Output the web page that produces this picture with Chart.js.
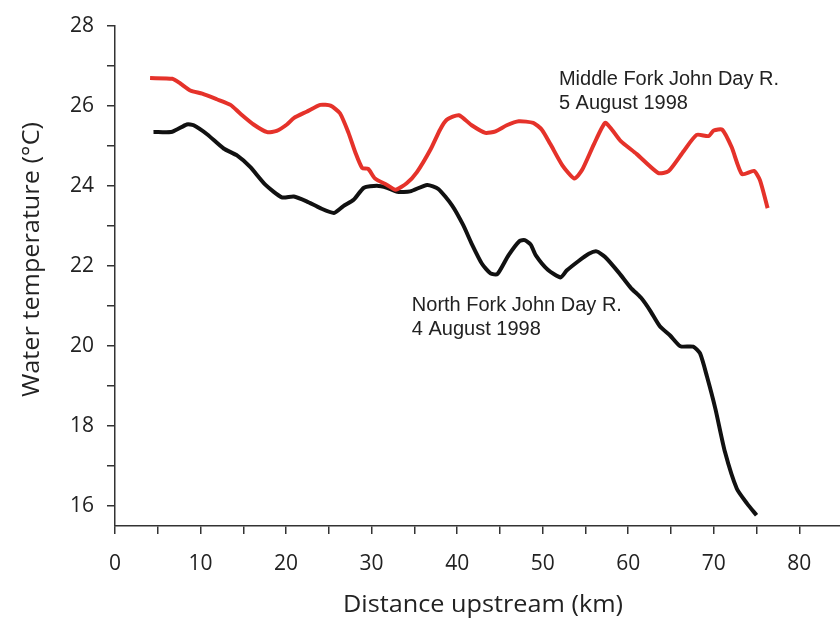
<!DOCTYPE html>
<html>
<head>
<meta charset="utf-8">
<script src="https://cdn.jsdelivr.net/npm/chart.js@4/dist/chart.umd.min.js"></script>
<style>
  html, body { margin: 0; padding: 0; background: #ffffff; }
  #c { display: block; }
</style>
</head>
<body>
<canvas id="c" width="840" height="623"></canvas>
<script>
// ---- Data ----
const middleKm = [4.1, 6.7, 7.6, 8.8, 10.2, 11.9, 13.5, 14.6, 16.2, 17.8, 18.9, 20.1, 20.9, 22.4, 24.0, 25.2, 26.3, 27.3, 28.1, 28.9, 29.6, 30.4, 31.8, 32.8, 34.1, 35.3, 36.9, 38.0, 38.8, 40.2, 41.7, 43.3, 44.5, 45.8, 47.2, 48.9, 49.9, 50.9, 52.3, 53.7, 54.6, 56.0, 57.3, 58.1, 59.1, 61.0, 63.5, 64.7, 66.5, 68.0, 69.4, 70.0, 71.0, 72.1, 73.3, 74.7, 75.4, 76.3];
const middleTemp = [26.69, 26.67, 26.56, 26.38, 26.30, 26.16, 26.02, 25.81, 25.53, 25.34, 25.37, 25.53, 25.69, 25.85, 26.02, 26.00, 25.81, 25.32, 24.83, 24.44, 24.42, 24.18, 24.02, 23.90, 24.06, 24.34, 24.91, 25.40, 25.65, 25.76, 25.51, 25.32, 25.36, 25.51, 25.61, 25.57, 25.40, 25.04, 24.51, 24.18, 24.39, 25.04, 25.57, 25.40, 25.12, 24.79, 24.32, 24.36, 24.87, 25.27, 25.24, 25.38, 25.40, 24.96, 24.29, 24.37, 24.14, 23.44];

const northKm = [4.5, 6.7, 8.4, 9.2, 10.8, 12.7, 14.3, 15.8, 17.6, 19.5, 20.9, 22.4, 24.0, 25.6, 26.7, 27.9, 29.1, 30.6, 31.8, 33.0, 34.5, 36.5, 37.8, 39.4, 40.7, 41.7, 42.9, 43.9, 44.7, 46.0, 47.3, 47.9, 48.6, 49.2, 50.6, 52.1, 52.8, 54.2, 55.4, 56.3, 57.3, 58.9, 60.3, 61.5, 62.6, 63.7, 64.9, 66.1, 67.6, 68.4, 69.2, 70.2, 71.3, 72.7, 73.9, 75.0];
const northTemp = [25.34, 25.35, 25.53, 25.51, 25.28, 24.93, 24.75, 24.47, 24.02, 23.71, 23.73, 23.61, 23.44, 23.32, 23.49, 23.65, 23.95, 24.00, 23.95, 23.85, 23.86, 24.02, 23.92, 23.51, 23.02, 22.55, 22.05, 21.81, 21.79, 22.26, 22.62, 22.64, 22.53, 22.26, 21.90, 21.71, 21.88, 22.12, 22.30, 22.36, 22.22, 21.83, 21.45, 21.20, 20.87, 20.49, 20.26, 19.99, 19.98, 19.81, 19.24, 18.42, 17.36, 16.43, 16.06, 15.77];

const seriesNames = ["Middle Fork John Day R.", "North Fork John Day R."];
const labelLines = [["Middle Fork John Day R.", "5 August 1998"], ["North Fork John Day R.", "4 August 1998"]];
const labelKm = [51.9, 34.7];
const labelTemp = [26.52, 20.87];

const xTitle = "Distance upstream (km)";
const yTitle = "Water temperature (\u00B0C)";
const xMin = 0, xMax = 84.76, xStep = 5, xLabelEvery = 10;
const yMin = 15.5, yMax = 28, yStep = 1, yLabelEvery = 2;

const toPoints = (xs, ys) => xs.map((x, i) => ({ x: x, y: ys[i] }));
const stepTicks = (min, max, step) => {
  const out = [];
  for (let v = Math.ceil(min / step) * step; v <= max + 1e-9; v += step) out.push({ value: Math.round(v * 1000) / 1000 });
  return out;
};

const axisColor = '#333333';
const textColor = '#222222';

const annotationPlugin = {
  id: 'annot',
  afterDatasetsDraw(chart) {
    const ctx = chart.ctx;
    const xs = chart.scales.x, ys = chart.scales.y;
    ctx.save();
    ctx.fillStyle = textColor;
    ctx.font = '20px "Liberation Sans", Arial, sans-serif';
    ctx.textAlign = 'left';
    ctx.textBaseline = 'alphabetic';
    labelLines.forEach((lines, i) => {
      const px = xs.getPixelForValue(labelKm[i]);
      const py = ys.getPixelForValue(labelTemp[i]);
      lines.forEach((t, j) => ctx.fillText(t, px, py + j * 24));
    });
    // axis titles
    ctx.font = '24px "Open Sans", sans-serif';
    ctx.textAlign = 'center';
    let w = ctx.measureText(xTitle).width;
    ctx.save();
    ctx.translate(483, 611.5);
    ctx.scale(280 / w, 1);
    ctx.fillText(xTitle, 0, 0);
    ctx.restore();
    w = ctx.measureText(yTitle).width;
    ctx.save();
    ctx.translate(38.5, 259.5);
    ctx.rotate(-Math.PI / 2);
    ctx.scale(275 / w, 1);
    ctx.fillText(yTitle, 0, 0);
    ctx.restore();
    ctx.restore();
  }
};

new Chart(document.getElementById('c'), {
  type: 'line',
  data: {
    datasets: [
      {
        label: seriesNames[0],
        data: toPoints(middleKm, middleTemp),
        borderColor: '#e5322a',
        borderWidth: 4,
        pointRadius: 0,
        tension: 0.2,
        fill: false
      },
      {
        label: seriesNames[1],
        data: toPoints(northKm, northTemp),
        borderColor: '#111111',
        borderWidth: 4,
        pointRadius: 0,
        tension: 0.2,
        fill: false
      }
    ]
  },
  options: {
    responsive: false,
    animation: false,
    devicePixelRatio: 1,
    layout: { padding: { top: 16, right: 0, left: 0, bottom: 0 } },
    plugins: {
      legend: { display: false },
      tooltip: { enabled: false },
      title: { display: false }
    },
    scales: {
      x: {
        type: 'linear',
        min: xMin,
        max: xMax,
        afterBuildTicks(s) { s.ticks = stepTicks(xMin, xMax, xStep); },
        afterFit(s) { s.height = 97; },
        ticks: {
          autoSkip: false,
          maxRotation: 0,
          padding: 17,
          color: textColor,
          font: { family: '"Open Sans", sans-serif', size: 21 },
          callback: v => (Math.round(v) % xLabelEvery === 0 ? String(v) : '')
        },
        grid: { drawOnChartArea: false, drawTicks: true, tickLength: 8, color: axisColor, lineWidth: 1.5 },
        border: { display: true, color: axisColor, width: 1.5 }
      },
      y: {
        type: 'linear',
        min: yMin,
        max: yMax,
        afterBuildTicks(s) { s.ticks = stepTicks(yMin, yMax, yStep); },
        afterFit(s) { s.width = 115; },
        ticks: {
          autoSkip: false,
          padding: 13,
          color: textColor,
          font: { family: '"Open Sans", sans-serif', size: 21 },
          callback: v => (Math.round(v) % yLabelEvery === 0 ? String(v) : '')
        },
        grid: { drawOnChartArea: false, drawTicks: true, tickLength: 8, color: axisColor, lineWidth: 1.5 },
        border: { display: true, color: axisColor, width: 1.5 }
      }
    }
  },
  plugins: [annotationPlugin]
});
</script>
</body>
</html>
